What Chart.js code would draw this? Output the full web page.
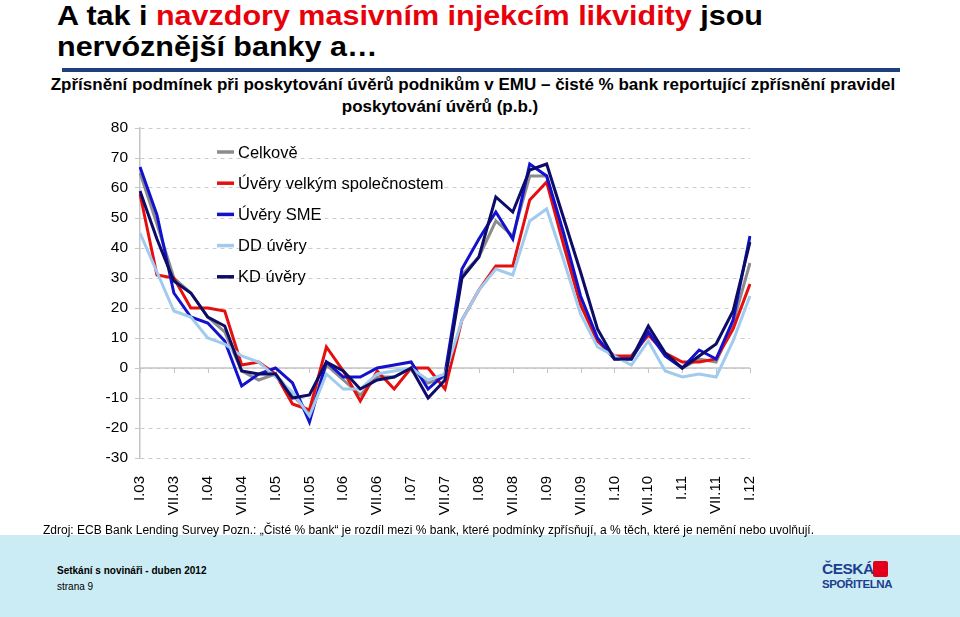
<!DOCTYPE html>
<html><head><meta charset="utf-8">
<script src="https://cdn.jsdelivr.net/npm/chart.js@4.4.1/dist/chart.umd.min.js"></script>
<style>
body{margin:0;width:960px;height:617px;position:relative;overflow:hidden;background:#fff;font-family:"Liberation Sans",Arial,sans-serif;color:#000;}
#t1{position:absolute;left:57px;top:1px;font-size:27px;font-weight:bold;line-height:31px;white-space:nowrap;transform:scaleX(1.13);transform-origin:0 0;}
.red{color:#e8000b;}
#rule{position:absolute;left:62px;top:68px;width:838px;height:4px;background:#1f3f7f;}
#sub1{position:absolute;left:0;top:75px;width:946px;text-align:center;font-weight:bold;font-size:17px;line-height:20px;white-space:nowrap;}
#sub2{position:absolute;left:0;top:97px;width:880px;text-align:center;font-weight:bold;font-size:17px;line-height:20px;white-space:nowrap;}
#wrap{position:absolute;left:0;top:110px;width:960px;height:430px;}
#band{position:absolute;left:0;top:535px;width:960px;height:82px;background:#cbecf4;}
#src{position:absolute;left:43px;top:523px;font-size:12px;white-space:nowrap;}
#f1{position:absolute;left:57px;top:565px;font-size:10px;font-weight:bold;}
#f2{position:absolute;left:57px;top:581px;font-size:10px;}
#logo1{position:absolute;left:822px;top:560px;font-size:15.5px;font-weight:bold;color:#1d3e8e;letter-spacing:-0.5px;}
#logo2{position:absolute;left:822px;top:578px;font-size:11.5px;font-weight:bold;color:#1d3e8e;letter-spacing:-0.4px;}
#icon{position:absolute;left:873px;top:561px;width:15px;height:16px;background:#e2001a;border-radius:2px;}
</style></head>
<body>
<div id="t1">A tak i <span class="red">navzdory masivním injekcím likvidity</span> jsou<br>nervóznější banky a…</div>
<div id="rule"></div>
<div id="sub1">Zpřísnění podmínek při poskytování úvěrů podnikům v EMU – čisté % bank reportující zpřísnění pravidel</div>
<div id="sub2">poskytování úvěrů (p.b.)</div>
<div id="band"></div>
<div id="wrap"><canvas id="c" width="960" height="430"></canvas></div>
<div id="src">Zdroj: ECB Bank Lending Survey Pozn.: „Čisté % bank“ je rozdíl mezi % bank, které podmínky zpřísňují, a % těch, které je nemění nebo uvolňují.</div>
<div id="f1">Setkání s novináři - duben 2012</div>
<div id="f2">strana 9</div>
<div id="logo1">ČESKÁ</div><div id="icon"></div>
<div id="logo2">SPOŘITELNA</div>
<script>
const quarters = ["I.03","IV.03","VII.03","X.03","I.04","IV.04","VII.04","X.04","I.05","IV.05","VII.05","X.05","I.06","IV.06","VII.06","X.06","I.07","IV.07","VII.07","X.07","I.08","IV.08","VII.08","X.08","I.09","IV.09","VII.09","X.09","I.10","IV.10","VII.10","X.10","I.11","IV.11","VII.11","X.11","I.12"];
const celkove = [65,48,30,25,17,12,-1,-4,-2,-9,-15,1,-4,-9,-3,-3,0,-5,-3,31,37,49,44,64,64,43,22,9,3,3,12,4,0,3,2,15,35];
const velke   = [58,31,30,20,20,19,1,2,-2,-12,-14,7,-1,-11,-1,-7,0,0,-7,16,26,34,34,56,62,41,21,9,4,4,11,5,2,2,3,13,28];
const sme     = [67,51,25,17,15,9,-6,-2,0,-5,-18,2,-3,-3,0,1,2,-7,-2,33,43,52,43,68,64,45,24,10,3,3,12,4,0,6,3,16,44];
const dd      = [45,32,19,17,10,8,4,2,-3,-8,-16,-2,-7,-7,-2,-1,0,-4,-2,16,26,33,31,49,53,36,18,7,4,1,9,-1,-3,-2,-3,9,24];
const kd      = [59,43,29,25,17,14,-1,-2,-2,-10,-9,2,-1,-7,-4,-3,0,-10,-4,30,37,57,52,66,68,50,32,13,3,3,14,5,0,4,8,19,42];
const seriesNames = ["Celkově","Úvěry velkým společnostem","Úvěry SME","DD úvěry","KD úvěry"];
const yTicks = {min:-30, max:80, step:10};

const FONT = '"Liberation Sans", Arial, sans-serif';

const zeroLine = {
  id:'zeroLine',
  beforeDatasetsDraw(chart){
    const {ctx, chartArea:a, scales:{x,y}} = chart;
    const y0 = y.getPixelForValue(0);
    ctx.save();
    ctx.strokeStyle = '#c4c4c4'; ctx.lineWidth = 1.5;
    ctx.beginPath(); ctx.moveTo(a.left, y0); ctx.lineTo(a.right, y0); ctx.stroke();
    ctx.lineWidth = 1;
    for (let i = 0; i < quarters.length; i += 2) {
      const px = Math.round(x.getPixelForValue(i)) + 0.5;
      ctx.beginPath(); ctx.moveTo(px, y0); ctx.lineTo(px, y0 + 5); ctx.stroke();
    }
    ctx.restore();
  }
};
const boxLegend = {
  id:'boxLegend',
  afterDatasetsDraw(chart){
    const {ctx, chartArea:a} = chart;
    chart.data.datasets.forEach((ds,i)=>{
      const yy = a.top + 24 + i*31.2;
      const xx = a.left + 77;
      ctx.save();
      ctx.strokeStyle = ds.borderColor; ctx.lineWidth = 3.5;
      ctx.beginPath(); ctx.moveTo(xx, yy); ctx.lineTo(xx+17, yy); ctx.stroke();
      ctx.fillStyle = '#000'; ctx.font = '16.5px ' + FONT; ctx.textBaseline = 'middle';
      ctx.fillText(ds.label, xx + 21, yy + 1);
      ctx.restore();
    });
  }
};

const colors = ['#8c8c8c','#e60f0f','#1212cc','#a0cbef','#0d0d68'];
const values = [celkove, velke, sme, dd, kd];
new Chart(document.getElementById('c'), {
  type:'line',
  data:{
    labels: quarters,
    datasets: values.map((v,i)=>({label:seriesNames[i], data:v, borderColor:colors[i], backgroundColor:colors[i], borderWidth:3, pointRadius:0, tension:0, order:5-i}))
  },
  options:{
    responsive:false, animation:false, devicePixelRatio:1,
    layout:{padding:{left:100,right:210,top:18,bottom:22}},
    plugins:{legend:{display:false}, tooltip:{enabled:false}},
    scales:{
      x:{
        grid:{display:false}, border:{display:false},
        ticks:{autoSkip:false, maxRotation:90, minRotation:90, padding:10, color:'#000', font:{size:15, family:FONT},
          callback:(v,i)=> i%2===0 ? quarters[i] : ''},
        afterFit:s=>{s.height=60;}
      },
      y:{
        min:yTicks.min, max:yTicks.max,
        ticks:{stepSize:yTicks.step, color:'#000', font:{size:15.5, family:FONT}, padding:7},
        grid:{color:'#cccccc', tickLength:5, tickColor:'#c8c8c8'},
        border:{color:'#c4c4c4', width:1.5, dash:[4,4]},
        afterFit:s=>{s.width=40;}
      }
    }
  },
  plugins:[zeroLine, boxLegend]
});
</script>
</body></html>
